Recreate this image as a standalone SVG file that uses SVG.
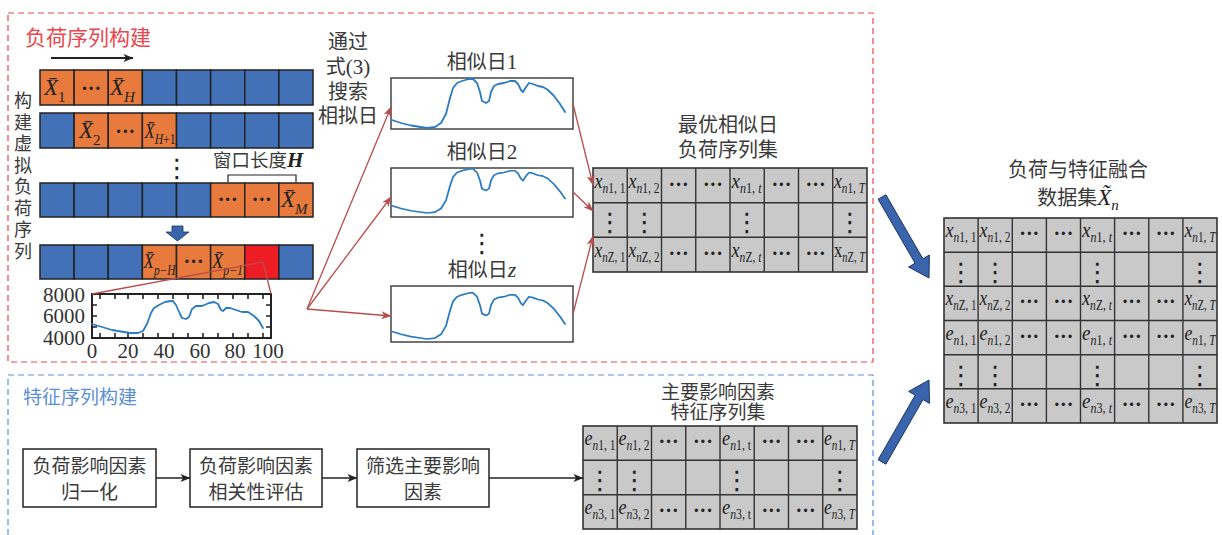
<svg xmlns="http://www.w3.org/2000/svg" width="1222" height="535" viewBox="0 0 1222 535">
<style>
.cn{font-family:"Noto Sans CJK SC","Noto Sans CJK JP",sans-serif;fill:#3a3a3a;}
.se{font-family:"Liberation Serif","DejaVu Serif",serif;fill:#222;}
.i{font-style:italic;}
.bl{fill:#4271B8;stroke:#222;stroke-width:1.5;}
.or{fill:#E77A3C;stroke:#222;stroke-width:1.5;}
.rd{fill:#EE1D24;stroke:#222;stroke-width:1.5;}
.gr{fill:#C9C9CA;stroke:#333;stroke-width:1.6;}
.grid{fill:none;stroke:#333;stroke-width:1.4;}
.m{font-family:"Liberation Serif","DejaVu Serif",serif;font-size:22px;fill:#222;}
.sub{font-size:14px;}
.dt{font-family:"Liberation Serif",serif;font-size:20px;font-weight:bold;fill:#222;text-anchor:middle;}
.vd{font-family:"DejaVu Sans",sans-serif;font-size:26px;fill:#222;text-anchor:middle;}
.X{font-family:"Liberation Serif","DejaVu Serif",serif;font-size:23px;fill:#222;}
.Xs{font-size:15px;}
.rl{stroke:#B84D4D;stroke-width:1.3;fill:none;}
.bk{stroke:#222;stroke-width:1.5;fill:none;}
.crv{fill:none;stroke:#2A7BC4;stroke-width:1.8;stroke-linejoin:round;stroke-linecap:round;}
.box{fill:#fff;stroke:#444;stroke-width:1.5;}
.ax{font-family:"Liberation Serif",serif;font-size:21px;fill:#333;}
.big{fill:#3A64AC;stroke:#1E3560;stroke-width:1;}
</style>
<defs>
<marker id="ar" viewBox="0 0 10 8" refX="9.5" refY="4" markerWidth="10" markerHeight="8" markerUnits="userSpaceOnUse" orient="auto"><path d="M0,0 L10,4 L0,8 L2.5,4 z" fill="#B84D4D"/></marker>
<marker id="ak" viewBox="0 0 10 8" refX="9.5" refY="4" markerWidth="11" markerHeight="8" markerUnits="userSpaceOnUse" orient="auto"><path d="M0,0 L10,4 L0,8 L2.5,4 z" fill="#222"/></marker>
<polyline id="day" class="crv" points="1,42 10,45 20,47.5 36,50 44,49 50,45 55,36 59,20 62,10 66,5 71,3 78,1 82,1 86,5 89,14 91,23 95,25 98,23 100,14 103,8 107,6 113,5 119,3 124,3 127,6 130,12 132,14 135,9 138,5 142,6 147,8 152,9 157,12 163,18 169,26 174,34"/>
</defs>

<!-- dashed regions -->
<g id="region-load">
<rect x="8" y="13" width="865" height="349" fill="none" stroke="#E8474F" stroke-width="1.2" stroke-dasharray="6 4"/>
<text x="25" y="45" class="cn" style="font-size:21px;fill:#E9474F">负荷序列构建</text>
</g>
<g id="region-feature">
<rect x="8" y="375" width="865" height="180" fill="none" stroke="#5B8FD6" stroke-width="1.2" stroke-dasharray="6 4"/>
<text x="23" y="404" class="cn" style="font-size:19px;fill:#5B8FD6">特征序列构建</text>
</g>

<!-- vertical label -->
<g id="label-virtual" class="cn" style="font-size:18px" text-anchor="middle">
<text x="23" y="107">构</text><text x="23" y="128.5">建</text><text x="23" y="150">虚</text><text x="23" y="171.5">拟</text>
<text x="23" y="193">负</text><text x="23" y="214.5">荷</text><text x="23" y="236">序</text><text x="23" y="257.5">列</text>
</g>

<!-- sequence rows -->
<g id="seq-row1">
<rect class="or" x="40" y="70" width="34.125" height="35"/><rect class="or" x="74.125" y="70" width="34.125" height="35"/><rect class="or" x="108.25" y="70" width="34.125" height="35"/>
<rect class="bl" x="142.375" y="70" width="34.125" height="35"/><rect class="bl" x="176.5" y="70" width="34.125" height="35"/><rect class="bl" x="210.625" y="70" width="34.125" height="35"/><rect class="bl" x="244.75" y="70" width="34.125" height="35"/><rect class="bl" x="278.875" y="70" width="34.125" height="35"/>
<text class="X" x="44" y="95"><tspan class="i">X&#x304;</tspan><tspan class="Xs" dy="7">1</tspan></text>
<text class="dt" x="91.2" y="95">···</text>
<text class="X" x="110" y="95"><tspan class="i">X&#x304;</tspan><tspan class="Xs i" dy="7">H</tspan></text>
</g>
<g id="seq-row2">
<rect class="bl" x="40" y="113" width="34.125" height="35"/>
<rect class="or" x="74.125" y="113" width="34.125" height="35"/><rect class="or" x="108.25" y="113" width="34.125" height="35"/><rect class="or" x="142.375" y="113" width="34.125" height="35"/>
<rect class="bl" x="176.5" y="113" width="34.125" height="35"/><rect class="bl" x="210.625" y="113" width="34.125" height="35"/><rect class="bl" x="244.75" y="113" width="34.125" height="35"/><rect class="bl" x="278.875" y="113" width="34.125" height="35"/>
<text class="X" x="79" y="138"><tspan class="i">X&#x304;</tspan><tspan class="Xs" dy="7">2</tspan></text>
<text class="dt" x="125.3" y="138">···</text>
<text class="X" x="144.5" y="138" textLength="31" lengthAdjust="spacingAndGlyphs"><tspan class="i" style="font-size:20px">X&#x304;</tspan><tspan class="Xs" dy="6" style="font-size:14px"><tspan class="i">H</tspan>+1</tspan></text>
</g>
<g id="seq-row3">
<rect class="bl" x="40" y="183" width="34.125" height="34"/><rect class="bl" x="74.125" y="183" width="34.125" height="34"/><rect class="bl" x="108.25" y="183" width="34.125" height="34"/><rect class="bl" x="142.375" y="183" width="34.125" height="34"/><rect class="bl" x="176.5" y="183" width="34.125" height="34"/>
<rect class="or" x="210.625" y="183" width="34.125" height="34"/><rect class="or" x="244.75" y="183" width="34.125" height="34"/><rect class="or" x="278.875" y="183" width="34.125" height="34"/>
<text class="dt" x="227.7" y="206">···</text>
<text class="dt" x="261.8" y="206">···</text>
<text class="X" x="281" y="207"><tspan class="i">X&#x304;</tspan><tspan class="Xs i" dy="7">M</tspan></text>
</g>
<g id="seq-row4">
<rect class="bl" x="40" y="245" width="34.125" height="34"/><rect class="bl" x="74.125" y="245" width="34.125" height="34"/><rect class="bl" x="108.25" y="245" width="34.125" height="34"/>
<rect class="or" x="142.375" y="245" width="34.125" height="34"/><rect class="or" x="176.5" y="245" width="34.125" height="34"/><rect class="or" x="210.625" y="245" width="34.125" height="34"/>
<rect class="rd" x="244.75" y="245" width="34.125" height="34"/><rect class="bl" x="278.875" y="245" width="34.125" height="34"/>
<text class="X" x="143.5" y="268" textLength="32" lengthAdjust="spacingAndGlyphs"><tspan class="i" style="font-size:21px">X&#x304;</tspan><tspan class="Xs i" dy="7" style="font-size:14px">p−H</tspan></text>
<text class="dt" x="193.6" y="268">···</text>
<text class="X" x="212" y="268" textLength="31" lengthAdjust="spacingAndGlyphs"><tspan class="i" style="font-size:22px">X&#x304;</tspan><tspan class="Xs i" dy="7" style="font-size:14px">p−1</tspan></text>
</g>

<g id="window-label">
<text x="213" y="167" class="cn" style="font-size:18.5px">窗口长度<tspan class="se i" style="font-size:21px;font-weight:bold;fill:#222">H</tspan></text>
<polyline class="bk" style="stroke-width:1.2" points="228,182 228,175 296,175 296,182"/>
<text class="vd" x="177" y="177">⋮</text>
</g>
<g id="slide-arrow">
<polygon points="172,226 183,226 183,232 189,232 177.5,241 166,232 172,232" fill="#3A64AC" stroke="#1E3560" stroke-width="0.8"/>
</g>

<!-- small load plot -->
<g id="load-plot">
<rect x="92" y="294" width="179" height="44" fill="#fff" stroke="#222" stroke-width="2"/>
<path class="bk" style="stroke-width:1.6" d="M100,294v5M115,294v5M128,294v5M143,294v5M158,294v5M173,294v5M188,294v5M203,294v5M218,294v5M233,294v5M248,294v5M263,294v5M100,338v-5M115,338v-5M128,338v-5M143,338v-5M158,338v-5M173,338v-5M188,338v-5M203,338v-5M218,338v-5M233,338v-5M248,338v-5M263,338v-5M92,305h5M92,316h5M92,327h5M271,305h-5M271,316h-5M271,327h-5"/>
<polyline class="crv" points="92,324 102,327 112,330 130,333 138,333 143,331 147,324 151,313 154,308 159,305 165,302 171,301 173,301 176,305 180,314 182,318 186,319 189,317 192,309 196,306 202,306 209,303 214,302 218,304 221,310 223,311 226,308 230,308 236,310 242,312 248,312 254,316 259,321 263,328"/>
<text class="ax" x="85" y="302" text-anchor="end">8000</text>
<text class="ax" x="85" y="323" text-anchor="end">6000</text>
<text class="ax" x="85" y="345" text-anchor="end">4000</text>
<g class="ax" text-anchor="middle">
<text x="92" y="358">0</text><text x="128" y="358">20</text><text x="164" y="358">40</text><text x="200" y="358">60</text><text x="235" y="358">80</text><text x="268" y="358">100</text>
</g>
</g>

<g id="search-label" class="cn" style="font-size:20px" text-anchor="middle">
<text x="348" y="49">通过</text>
<text x="348" y="74">式<tspan class="se" style="font-size:21px;fill:#333">(3)</tspan></text>
<text x="348" y="99">搜索</text>
<text x="348" y="123">相拟日</text>
</g>

<!-- similar day boxes -->
<g id="sim-day-1">
<text x="482" y="69" class="cn" style="font-size:20px" text-anchor="middle">相似日<tspan class="se" style="font-size:21px;fill:#333">1</tspan></text>
<rect class="box" x="391" y="78" width="182" height="51"/>
<use href="#day" transform="translate(391,78)"/>
</g>
<g id="sim-day-2">
<text x="482" y="159" class="cn" style="font-size:20px" text-anchor="middle">相似日<tspan class="se" style="font-size:21px;fill:#333">2</tspan></text>
<rect class="box" x="391" y="168" width="182" height="49"/>
<use href="#day" transform="translate(391,168) scale(1,0.9)"/>
</g>
<text class="vd" x="482" y="252">⋮</text>
<g id="sim-day-z">
<text x="482" y="277" class="cn" style="font-size:20px" text-anchor="middle">相似日<tspan class="se i" style="font-size:22px;fill:#333">z</tspan></text>
<rect class="box" x="391" y="286" width="182" height="56"/>
<use href="#day" transform="translate(391,292) scale(1,0.94)"/>
</g>

<!-- optimal similar day table -->
<g id="table-opt">
<text x="728" y="132" class="cn" style="font-size:20px" text-anchor="middle">最优相似日</text>
<text x="728" y="157" class="cn" style="font-size:20px" text-anchor="middle">负荷序列集</text>
<rect class="gr" x="593" y="168" width="274" height="104"/>
<path class="grid" d="M627.25,168V272M661.5,168V272M695.75,168V272M730,168V272M764.25,168V272M798.5,168V272M832.75,168V272M593,202.7H867M593,237.3H867"/>
<text class="m" x="594.5" y="188" textLength="31" lengthAdjust="spacingAndGlyphs"><tspan class="i">x</tspan><tspan class="sub" dy="5"><tspan class="i">n</tspan>1, 1</tspan></text>
<text class="m" x="628.5" y="188" textLength="31" lengthAdjust="spacingAndGlyphs"><tspan class="i">x</tspan><tspan class="sub" dy="5"><tspan class="i">n</tspan>1, 2</tspan></text>
<text class="dt" x="678.6" y="191">···</text><text class="dt" x="712.9" y="191">···</text>
<text class="m" x="731.5" y="188" textLength="30" lengthAdjust="spacingAndGlyphs"><tspan class="i">x</tspan><tspan class="sub" dy="5"><tspan class="i">n</tspan>1, <tspan class="i">t</tspan></tspan></text>
<text class="dt" x="781.4" y="191">···</text><text class="dt" x="815.6" y="191">···</text>
<text class="m" x="834" y="188" textLength="31" lengthAdjust="spacingAndGlyphs"><tspan class="i">x</tspan><tspan class="sub" dy="5"><tspan class="i">n</tspan>1, <tspan class="i">T</tspan></tspan></text>
<text class="vd" x="610.1" y="231">⋮</text><text class="vd" x="644.4" y="231">⋮</text><text class="vd" x="747.1" y="231">⋮</text><text class="vd" x="849.9" y="231">⋮</text>
<text class="m" x="594.5" y="257" textLength="31" lengthAdjust="spacingAndGlyphs"><tspan class="i">x</tspan><tspan class="sub" dy="5"><tspan class="i">n</tspan>Z, 1</tspan></text>
<text class="m" x="628.5" y="257" textLength="31" lengthAdjust="spacingAndGlyphs"><tspan class="i">x</tspan><tspan class="sub" dy="5"><tspan class="i">n</tspan>Z, 2</tspan></text>
<text class="dt" x="678.6" y="260">···</text><text class="dt" x="712.9" y="260">···</text>
<text class="m" x="731.5" y="257" textLength="30" lengthAdjust="spacingAndGlyphs"><tspan class="i">x</tspan><tspan class="sub" dy="5"><tspan class="i">n</tspan>Z, <tspan class="i">t</tspan></tspan></text>
<text class="dt" x="781.4" y="260">···</text><text class="dt" x="815.6" y="260">···</text>
<text class="m" x="834" y="257" textLength="31" lengthAdjust="spacingAndGlyphs"><tspan>x</tspan><tspan class="sub" dy="5"><tspan class="i">n</tspan>Z, <tspan class="i">T</tspan></tspan></text>
</g>

<!-- fused table -->
<g id="table-fused">
<text x="1078" y="177" class="cn" style="font-size:20px" text-anchor="middle">负荷与特征融合</text>
<text x="1078" y="205" class="cn" style="font-size:20px" text-anchor="middle">数据集<tspan class="se i" style="font-size:23px;fill:#222">X&#x303;</tspan><tspan class="se i" style="font-size:15px;fill:#222" dy="5">n</tspan></text>
<rect class="gr" x="944" y="218" width="273" height="205"/>
<path class="grid" d="M978.1,218V423M1012.3,218V423M1046.4,218V423M1080.5,218V423M1114.6,218V423M1148.8,218V423M1182.9,218V423M944,252.2H1217M944,286.3H1217M944,320.5H1217M944,354.7H1217M944,388.8H1217"/>
<text class="m" x="945.5" y="237" textLength="31" lengthAdjust="spacingAndGlyphs"><tspan class="i">x</tspan><tspan class="sub" dy="5"><tspan class="i">n</tspan>1, 1</tspan></text>
<text class="m" x="979.5" y="237" textLength="31" lengthAdjust="spacingAndGlyphs"><tspan class="i">x</tspan><tspan class="sub" dy="5"><tspan class="i">n</tspan>1, 2</tspan></text>
<text class="dt" x="1029.3" y="240">···</text><text class="dt" x="1063.4" y="240">···</text>
<text class="m" x="1082" y="237" textLength="30" lengthAdjust="spacingAndGlyphs"><tspan class="i">x</tspan><tspan class="sub" dy="5"><tspan class="i">n</tspan>1, <tspan class="i">t</tspan></tspan></text>
<text class="dt" x="1131.7" y="240">···</text><text class="dt" x="1165.8" y="240">···</text>
<text class="m" x="1184.5" y="237" textLength="31" lengthAdjust="spacingAndGlyphs"><tspan class="i">x</tspan><tspan class="sub" dy="5"><tspan class="i">n</tspan>1, <tspan class="i">T</tspan></tspan></text>
<text class="vd" x="961.1" y="281">⋮</text><text class="vd" x="995.2" y="281">⋮</text><text class="vd" x="1097.6" y="281">⋮</text><text class="vd" x="1199.9" y="281">⋮</text>
<text class="m" x="945.5" y="305" textLength="31" lengthAdjust="spacingAndGlyphs"><tspan class="i">x</tspan><tspan class="sub" dy="5"><tspan class="i">n</tspan>Z, 1</tspan></text>
<text class="m" x="979.5" y="305" textLength="31" lengthAdjust="spacingAndGlyphs"><tspan class="i">x</tspan><tspan class="sub" dy="5"><tspan class="i">n</tspan>Z, 2</tspan></text>
<text class="dt" x="1029.3" y="308">···</text><text class="dt" x="1063.4" y="308">···</text>
<text class="m" x="1082" y="305" textLength="30" lengthAdjust="spacingAndGlyphs"><tspan class="i">x</tspan><tspan class="sub" dy="5"><tspan class="i">n</tspan>Z, <tspan class="i">t</tspan></tspan></text>
<text class="dt" x="1131.7" y="308">···</text><text class="dt" x="1165.8" y="308">···</text>
<text class="m" x="1184.5" y="305" textLength="31" lengthAdjust="spacingAndGlyphs"><tspan class="i">x</tspan><tspan class="sub" dy="5"><tspan class="i">n</tspan>Z, <tspan class="i">T</tspan></tspan></text>
<text class="m" x="945.5" y="340" textLength="31" lengthAdjust="spacingAndGlyphs"><tspan class="i">e</tspan><tspan class="sub" dy="5"><tspan class="i">n</tspan>1, 1</tspan></text>
<text class="m" x="979.5" y="340" textLength="31" lengthAdjust="spacingAndGlyphs"><tspan class="i">e</tspan><tspan class="sub" dy="5"><tspan class="i">n</tspan>1, 2</tspan></text>
<text class="dt" x="1029.3" y="343">···</text><text class="dt" x="1063.4" y="343">···</text>
<text class="m" x="1082" y="340" textLength="30" lengthAdjust="spacingAndGlyphs"><tspan class="i">e</tspan><tspan class="sub" dy="5"><tspan class="i">n</tspan>1, <tspan class="i">t</tspan></tspan></text>
<text class="dt" x="1131.7" y="343">···</text><text class="dt" x="1165.8" y="343">···</text>
<text class="m" x="1184.5" y="340" textLength="31" lengthAdjust="spacingAndGlyphs"><tspan class="i">e</tspan><tspan class="sub" dy="5"><tspan class="i">n</tspan>1, <tspan class="i">T</tspan></tspan></text>
<text class="vd" x="961.1" y="383.5">⋮</text><text class="vd" x="995.2" y="383.5">⋮</text><text class="vd" x="1097.6" y="383.5">⋮</text><text class="vd" x="1199.9" y="383.5">⋮</text>
<text class="m" x="945.5" y="408" textLength="31" lengthAdjust="spacingAndGlyphs"><tspan class="i">e</tspan><tspan class="sub" dy="5"><tspan class="i">n</tspan>3, 1</tspan></text>
<text class="m" x="979.5" y="408" textLength="31" lengthAdjust="spacingAndGlyphs"><tspan class="i">e</tspan><tspan class="sub" dy="5"><tspan class="i">n</tspan>3, 2</tspan></text>
<text class="dt" x="1029.3" y="411">···</text><text class="dt" x="1063.4" y="411">···</text>
<text class="m" x="1082" y="408" textLength="30" lengthAdjust="spacingAndGlyphs"><tspan class="i">e</tspan><tspan class="sub" dy="5"><tspan class="i">n</tspan>3, <tspan class="i">t</tspan></tspan></text>
<text class="dt" x="1131.7" y="411">···</text><text class="dt" x="1165.8" y="411">···</text>
<text class="m" x="1184.5" y="408" textLength="31" lengthAdjust="spacingAndGlyphs"><tspan class="i">e</tspan><tspan class="sub" dy="5"><tspan class="i">n</tspan>3, <tspan class="i">T</tspan></tspan></text>
</g>

<!-- feature process boxes -->
<g id="step-normalize">
<rect class="box" x="23" y="449" width="133" height="58" style="stroke:#222"/>
<text x="89.5" y="473" class="cn" style="font-size:19px" text-anchor="middle">负荷影响因素</text>
<text x="89.5" y="499" class="cn" style="font-size:19px" text-anchor="middle">归一化</text>
</g>
<g id="step-correlation">
<rect class="box" x="190" y="449" width="132" height="58" style="stroke:#222"/>
<text x="256" y="473" class="cn" style="font-size:19px" text-anchor="middle">负荷影响因素</text>
<text x="256" y="499" class="cn" style="font-size:19px" text-anchor="middle">相关性评估</text>
</g>
<g id="step-select">
<rect class="box" x="357" y="449" width="132" height="58" style="stroke:#222"/>
<text x="423" y="473" class="cn" style="font-size:19px" text-anchor="middle">筛选主要影响</text>
<text x="423" y="499" class="cn" style="font-size:19px" text-anchor="middle">因素</text>
</g>

<!-- feature table -->
<g id="table-feature">
<text x="718" y="399" class="cn" style="font-size:19px" text-anchor="middle">主要影响因素</text>
<text x="718" y="419" class="cn" style="font-size:19px" text-anchor="middle">特征序列集</text>
<rect class="gr" x="583" y="426" width="274" height="103"/>
<path class="grid" d="M617.25,426V529M651.5,426V529M685.75,426V529M720,426V529M754.25,426V529M788.5,426V529M822.75,426V529M583,460.3H857M583,494.7H857"/>
<text class="m" x="584.5" y="445" textLength="31" lengthAdjust="spacingAndGlyphs"><tspan class="i">e</tspan><tspan class="sub" dy="5"><tspan class="i">n</tspan>1, 1</tspan></text>
<text class="m" x="618.5" y="445" textLength="31" lengthAdjust="spacingAndGlyphs"><tspan class="i">e</tspan><tspan class="sub" dy="5"><tspan class="i">n</tspan>1, 2</tspan></text>
<text class="dt" x="668.6" y="448">···</text><text class="dt" x="702.9" y="448">···</text>
<text class="m" x="722" y="445" textLength="29" lengthAdjust="spacingAndGlyphs"><tspan class="i">e</tspan><tspan class="sub" dy="5"><tspan class="i">n</tspan>1, t</tspan></text>
<text class="dt" x="771.4" y="448">···</text><text class="dt" x="805.6" y="448">···</text>
<text class="m" x="824" y="445" textLength="31" lengthAdjust="spacingAndGlyphs"><tspan class="i">e</tspan><tspan class="sub" dy="5"><tspan class="i">n</tspan>1, <tspan class="i">T</tspan></tspan></text>
<text class="vd" x="600.1" y="489">⋮</text><text class="vd" x="634.4" y="489">⋮</text><text class="vd" x="737.1" y="489">⋮</text><text class="vd" x="839.9" y="489">⋮</text>
<text class="m" x="584.5" y="514" textLength="31" lengthAdjust="spacingAndGlyphs"><tspan class="i">e</tspan><tspan class="sub" dy="5"><tspan class="i">n</tspan>3, 1</tspan></text>
<text class="m" x="618.5" y="514" textLength="31" lengthAdjust="spacingAndGlyphs"><tspan class="i">e</tspan><tspan class="sub" dy="5"><tspan class="i">n</tspan>3, 2</tspan></text>
<text class="dt" x="668.6" y="517">···</text><text class="dt" x="702.9" y="517">···</text>
<text class="m" x="722" y="514" textLength="29" lengthAdjust="spacingAndGlyphs"><tspan class="i">e</tspan><tspan class="sub" dy="5"><tspan class="i">n</tspan>3, t</tspan></text>
<text class="dt" x="771.4" y="517">···</text><text class="dt" x="805.6" y="517">···</text>
<text class="m" x="824" y="514" textLength="31" lengthAdjust="spacingAndGlyphs"><tspan class="i">e</tspan><tspan class="sub" dy="5"><tspan class="i">n</tspan>3, <tspan class="i">T</tspan></tspan></text>
</g>

<!-- connectors -->
<g id="connectors">
<line class="bk" x1="51" y1="58" x2="133" y2="58" marker-end="url(#ak)" style="stroke-width:2"/>
<line class="rl" x1="263" y1="262" x2="92" y2="294"/>
<line class="rl" x1="263" y1="262" x2="271" y2="294"/>
<line class="rl" x1="307" y1="309" x2="391" y2="107" marker-end="url(#ar)"/>
<line class="rl" x1="307" y1="309" x2="391" y2="197" marker-end="url(#ar)"/>
<line class="rl" x1="307" y1="309" x2="391" y2="316" marker-end="url(#ar)"/>
<line class="rl" x1="573" y1="104" x2="593" y2="185" marker-end="url(#ar)"/>
<line class="rl" x1="573" y1="192" x2="593" y2="211" marker-end="url(#ar)"/>
<line class="rl" x1="573" y1="314" x2="593" y2="236" marker-end="url(#ar)"/>
<line class="bk" x1="156" y1="478" x2="190" y2="478" marker-end="url(#ak)"/>
<line class="bk" x1="322" y1="478" x2="357" y2="478" marker-end="url(#ak)"/>
<line class="bk" x1="489" y1="478" x2="583" y2="478" marker-end="url(#ak)"/>
<polygon class="big" points="878.1,199.2 915.1,263.2 908.6,267 929,278 929.4,255 922.9,258.8 885.9,194.8"/>
<polygon class="big" points="885.9,464.2 923,399.6 929.5,403.4 929,380 908.7,391.4 915.2,395.2 878.1,459.8"/>
</g>
</svg>
